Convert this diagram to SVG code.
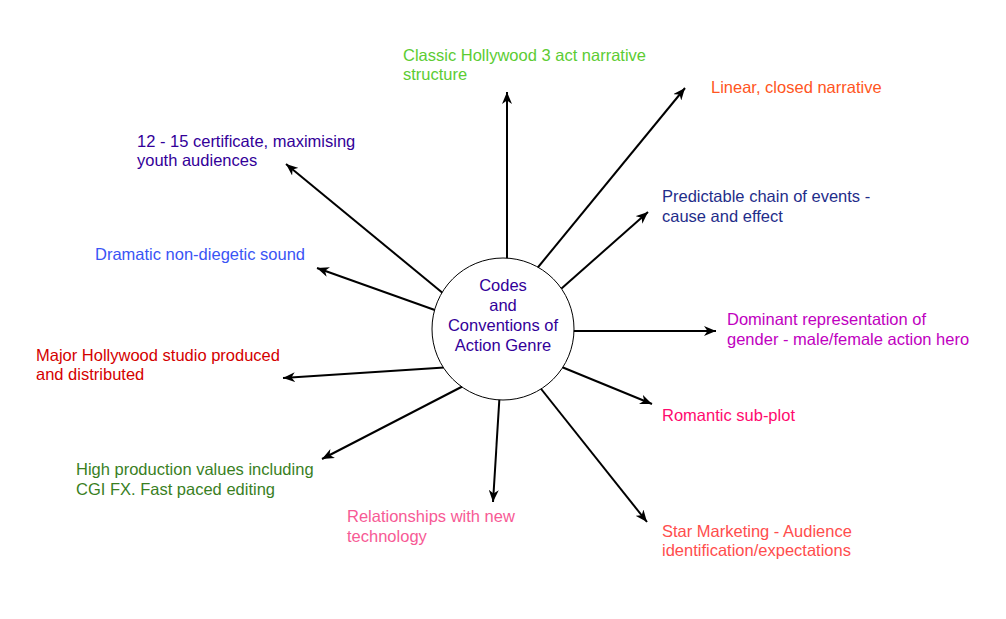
<svg xmlns="http://www.w3.org/2000/svg" width="1006" height="619" viewBox="0 0 1006 619">
<style>
text{font-family:"Liberation Sans",Arial,Helvetica,sans-serif;font-size:16.5px}
.c{stroke:#000;stroke-width:2;fill:none;marker-end:url(#arr)}
</style>
<defs>
<marker id="arr" viewBox="0 0 13 10" refX="12" refY="5" markerWidth="13" markerHeight="10" markerUnits="userSpaceOnUse" orient="auto">
<path d="M0,0 L12,5 L0,10 L3.5,5 Z" fill="#000"/>
</marker>
</defs>
<rect width="1006" height="619" fill="#fff"/>
<g id="connectors">
<line class="c" x1="507" y1="270" x2="507" y2="92"/>
<line class="c" x1="530" y1="277" x2="685" y2="88"/>
<line class="c" x1="553" y1="296" x2="648" y2="212"/>
<line class="c" x1="565" y1="331" x2="716" y2="331"/>
<line class="c" x1="552" y1="363" x2="652" y2="404"/>
<line class="c" x1="534" y1="380" x2="647" y2="522"/>
<line class="c" x1="500" y1="389" x2="493" y2="502"/>
<line class="c" x1="471" y1="382" x2="322" y2="459"/>
<line class="c" x1="452" y1="367" x2="283" y2="378"/>
<line class="c" x1="446" y1="314" x2="317" y2="268"/>
<line class="c" x1="450" y1="299" x2="286" y2="164"/>
</g>
<g id="center">
<circle cx="503" cy="329" r="71" fill="#fff" stroke="#000" stroke-width="1"/>
<text x="503" y="291" text-anchor="middle" fill="#330099">Codes</text>
<text x="503" y="311" text-anchor="middle" fill="#330099">and</text>
<text x="503" y="331" text-anchor="middle" fill="#330099">Conventions of</text>
<text x="503" y="351" text-anchor="middle" fill="#330099">Action Genre</text>
</g>
<g id="n-classic"><text x="403" y="61" fill="#5ccc33">Classic Hollywood 3 act narrative</text><text x="403" y="80" fill="#5ccc33">structure</text></g>
<g id="n-linear"><text x="711" y="93" fill="#ff5522">Linear, closed narrative</text></g>
<g id="n-predictable"><text x="662" y="202" fill="#1f2d8a">Predictable chain of events -</text><text x="662" y="222" fill="#1f2d8a">cause and effect</text></g>
<g id="n-dominant"><text x="727" y="325" fill="#c000c0">Dominant representation of</text><text x="727" y="345" fill="#c000c0">gender - male/female action hero</text></g>
<g id="n-romantic"><text x="662" y="421" fill="#ff0a6e">Romantic sub-plot</text></g>
<g id="n-star"><text x="662" y="537" fill="#ff4d4d">Star Marketing - Audience</text><text x="662" y="556" fill="#ff4d4d">identification/expectations</text></g>
<g id="n-relationships"><text x="347" y="522" fill="#f75a95">Relationships with new</text><text x="347" y="542" fill="#f75a95">technology</text></g>
<g id="n-high"><text x="76" y="475" fill="#3a7f1f">High production values including</text><text x="76" y="495" fill="#3a7f1f">CGI FX. Fast paced editing</text></g>
<g id="n-major"><text x="36" y="361" fill="#d40000">Major Hollywood studio produced</text><text x="36" y="380" fill="#d40000">and distributed</text></g>
<g id="n-dramatic"><text x="95" y="260" fill="#3a55f5">Dramatic non-diegetic sound</text></g>
<g id="n-cert"><text x="137" y="147" fill="#330099">12 - 15 certificate, maximising</text><text x="137" y="166" fill="#330099">youth audiences</text></g>
</svg>
